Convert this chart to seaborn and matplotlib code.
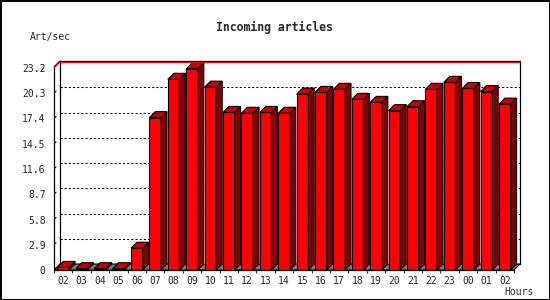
# -*- coding:utf-8 -*-

import pandas
import matplotlib.pyplot as plt
from matplotlib.patches import Polygon
import seaborn as sns

# Data
hours = ['02', '03', '04', '05', '06', '07', '08', '09', '10', '11', '12', '13', '14',
         '15', '16', '17', '18', '19', '20', '21', '22', '23', '00', '01', '02']
rate = [0.3, 0.15, 0.15, 0.15, 2.5, 17.5, 21.9, 23.1, 21.0, 18.1, 18.0, 18.1, 18.0,
        20.2, 20.4, 20.75, 19.6, 19.25, 18.3, 18.75, 20.75, 21.55, 20.85, 20.5, 19.05]
yticks = [0, 2.9, 5.8, 8.7, 11.6, 14.5, 17.4, 20.3, 23.2]
ytick_labels = ['0', '2.9', '5.8', '8.7', '11.6', '14.5', '17.4', '20.3', '23.2']
ymax = 23.2

df = pandas.DataFrame({'pos': range(len(rate)), 'rate': rate})

sns.set_style('white')
plt.rcParams['font.family'] = ['DejaVu Sans Mono']

# geometry in pixels (figure 550x300)
W, H = 550, 300
px_x = 18.4
px_y = 202 / ymax
depth = 6
dx = depth / px_x
dy = depth / px_y
n = len(rate)

fig = plt.figure(figsize=(W / 100, H / 100), dpi=100)
fig.patch.set_edgecolor('black')
fig.patch.set_linewidth(2)
ax_w = n * px_x + depth
ax_h = ymax * px_y + depth + 1
ax = fig.add_axes([54 / W, (H - 270) / H, ax_w / W, ax_h / H])

# back wall grid (dotted)
for t in yticks[1:-1]:
    ax.plot([-0.5 + dx, n - 0.5 + dx], [t + dy, t + dy], color='black',
            lw=0.75, dashes=(2, 2), zorder=1)

# floor
ax.add_patch(Polygon([(-0.5, 0), (n - 0.5, 0), (n - 0.5 + dx, dy), (-0.5 + dx, dy)],
                     closed=True, facecolor='#808080', edgecolor='black', lw=0.8, zorder=1.5))

# Draw bars
sns.barplot(data=df, x='pos', y='rate', color='#ff0000', saturation=1, width=0.63,
            edgecolor='black', linewidth=0.8, errorbar=None, ax=ax, zorder=2)

for p in ax.patches[1:]:
    x, w, h = p.get_x(), p.get_width(), p.get_height()
    ax.add_patch(Polygon([(x + w, 0), (x + w + dx, dy), (x + w + dx, h + dy), (x + w, h)],
                         closed=True, facecolor='#800000', edgecolor='black', lw=0.8, zorder=2))
    ax.add_patch(Polygon([(x, h), (x + w, h), (x + w + dx, h + dy), (x + dx, h + dy)],
                         closed=True, facecolor='#c00000', edgecolor='black', lw=0.8, zorder=2))

# frame
top = ymax + dy
k = dict(color='black', lw=0.9, zorder=3, clip_on=False)
ax.plot([-0.5, -0.5], [0, ymax], **k)
ax.plot([-0.5, n - 0.5], [0, 0], **k)
ax.plot([-0.5 + dx, -0.5 + dx], [dy, top], **k)
ax.plot([n - 0.5 + dx, n - 0.5 + dx], [dy, top], **k)
ax.plot([-0.5 + dx, n - 0.5 + dx], [top + 1 / px_y, top + 1 / px_y], **k)
ax.plot([-0.5, -0.5 + dx], [ymax + 1 / px_y, top + 1 / px_y], **k)
ax.plot([-0.5 + dx, n - 0.5 + dx], [top, top], color='red', lw=0.9, zorder=3)
ax.plot([-0.5, -0.5 + dx], [ymax, top], color='red', lw=0.9, zorder=3)
for t in yticks[:-1]:
    ax.plot([-0.5, -0.5 + dx * 0.35], [t, t + dy * 0.35], color='black', lw=0.7, zorder=3)

ax.set_xlim(-0.5, n - 0.5 + dx)
ax.set_ylim(0, top + 1 / px_y)
for s in ax.spines.values():
    s.set_visible(False)
ax.set_xlabel('')
ax.set_ylabel('')

ax.set_yticks(yticks, labels=ytick_labels)
ax.set_xticks(range(n), labels=hours)
ax.set_xticks([i - 0.5 for i in range(n + 1)], minor=True)
ax.tick_params(axis='y', length=0, pad=6, labelsize=7)
ax.tick_params(axis='x', which='major', length=0, pad=4, labelsize=7)
ax.tick_params(axis='x', which='minor', length=2.5, width=0.8, direction='out', bottom=True)

# Decoration
fig.text(274 / W, 1 - 27 / H, 'Incoming articles', ha='center', va='center',
         fontsize=8.3, fontweight='bold')
fig.text(30 / W, 1 - 37 / H, 'Art/sec', ha='left', va='center', fontsize=7)
fig.text(504 / W, 1 - 292 / H, 'Hours', ha='left', va='center', fontsize=7)

plt.savefig('out.png', dpi=100, edgecolor=fig.get_edgecolor())
